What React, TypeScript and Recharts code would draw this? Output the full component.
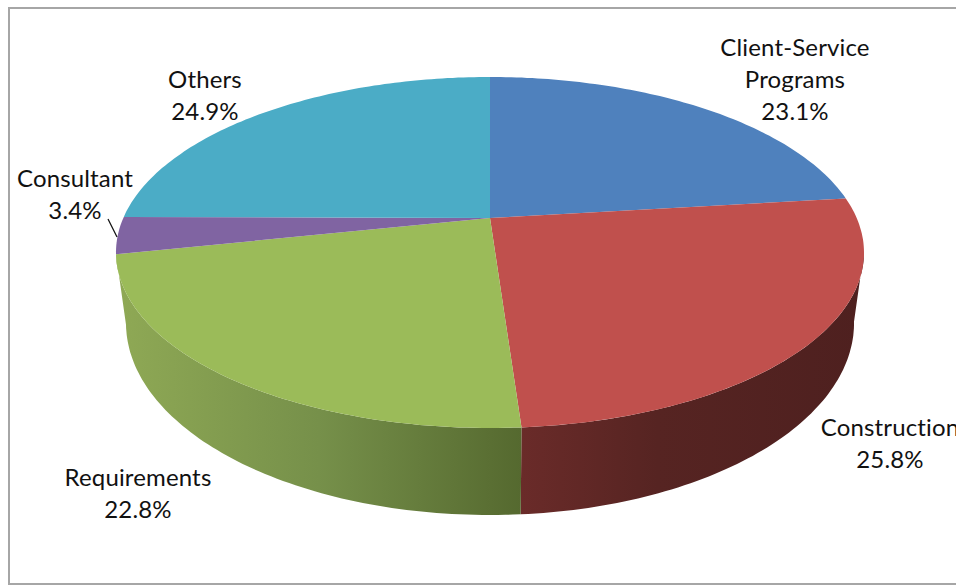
import { Pie, PieChart } from 'recharts';

const categories = ['Client-Service Programs', 'Construction', 'Requirements', 'Consultant', 'Others'];
const shares = [23.1, 25.8, 22.8, 3.4, 24.9];
const colors = ['#4f81bd', '#c0504d', '#9bbb59', '#8064a2', '#4bacc6'];

const data = categories.map((name, i) => ({ name, value: shares[i], fill: colors[i] }));

// side wall shading, left to right
const wallStops: Record<string, [number, string][]> = {
  Construction: [[0, '#6a2b29'], [0.4, '#562422'], [1, '#4e201f']],
  Requirements: [[0, '#8fa955'], [0.5, '#76904a'], [1, '#55692f']],
};

// centre of each text block, first line baseline
const labelPos: Record<string, [number, number]> = {
  'Client-Service Programs': [795, 56],
  Construction: [890, 436],
  Requirements: [138, 486],
  Consultant: [75, 187],
  Others: [205, 88],
};

const CX = 490;
const CY = 218;
const R = 374;
// perspective of the tilted disc
const K = 0.1966;
const TOP_X = 0.9805;
const TOP_Y = 0.4511;
const FLOOR_X = 0.9543;
const FLOOR_Y = 0.4936;
const FLOOR_CY = 285.2;
const EDGE = 101; // where the rim turns away, in degrees from 12 o'clock

function project(deg: number, cy: number, sx: number, sy: number) {
  const t = (deg * Math.PI) / 180;
  const d = 1 + K * Math.cos(t);
  return [CX + (R * sx * Math.sin(t)) / d, cy - (R * sy * Math.cos(t)) / d];
}

function arc(from: number, to: number, cy: number, sx: number, sy: number) {
  const n = Math.max(2, Math.ceil(Math.abs(to - from)));
  const pts = [];
  for (let i = 0; i <= n; i++) {
    pts.push(project(from + ((to - from) * i) / n, cy, sx, sy));
  }
  return pts;
}

const toPath = (pts: number[][]) => 'M' + pts.map((p) => `${p[0].toFixed(1)},${p[1].toFixed(1)}`).join('L') + 'Z';

function Slice(props: any) {
  const { startAngle, endAngle, fill, name } = props;
  const from = 90 - startAngle;
  const to = 90 - endAngle;
  const top = [[CX, CY], ...arc(from, to, CY, TOP_X, TOP_Y)];
  const stops = wallStops[name];
  const a = Math.max(from, EDGE);
  const b = Math.min(to, 360 - EDGE);
  let wall = null;
  if (stops && b > a) {
    const upper = arc(a, b, CY, TOP_X, TOP_Y);
    const lower = arc(a, b, FLOOR_CY, FLOOR_X, FLOOR_Y).reverse();
    const xs = [...upper, ...lower].map((p) => p[0]);
    const id = `wall-${name}`;
    wall = (
      <>
        <defs>
          <linearGradient id={id} gradientUnits="userSpaceOnUse" x1={Math.min(...xs)} x2={Math.max(...xs)} y1={0} y2={0}>
            {stops.map(([o, c]) => (
              <stop key={o} offset={o} stopColor={c} />
            ))}
          </linearGradient>
        </defs>
        <path d={toPath([...upper, ...lower])} fill={`url(#${id})`} />
      </>
    );
  }
  return (
    <g>
      {wall}
      <path d={toPath(top)} fill={fill} />
    </g>
  );
}

function SliceLabel(props: any) {
  const { name, value } = props;
  const [x, y] = labelPos[name];
  const lines = [...name.split(' '), `${value.toFixed(1)}%`];
  return (
    <g>
      <text x={x} y={y} textAnchor="middle" fontFamily="Lato" fontSize={24} letterSpacing={0.15} fill="#111">
        {lines.map((l: string, i: number) => (
          <tspan key={l} x={x} y={y + i * 32}>
            {l}
          </tspan>
        ))}
      </text>
      {name === 'Consultant' && <line x1={108} y1={219} x2={117} y2={237} stroke="#111" strokeWidth={1.2} />}
    </g>
  );
}

export default function App() {
  return (
    <div style={{ position: 'absolute', left: 0, top: 0, width: 956, height: 585, overflow: 'hidden', background: '#fff' }}>
      <div
        style={{
          position: 'absolute',
          left: 8,
          top: 7,
          width: 980,
          height: 578,
          boxSizing: 'border-box',
          border: '2px solid #a6a6a6',
        }}
      />
      <div style={{ position: 'absolute', left: 0, top: 0 }}>
        <PieChart width={956} height={585} margin={{ top: 0, right: 0, bottom: 0, left: 0 }}>
          <Pie
            data={data}
            dataKey="value"
            nameKey="name"
            cx={CX}
            cy={CY}
            outerRadius={R}
            startAngle={90}
            endAngle={-270}
            stroke="none"
            shape={Slice}
            label={SliceLabel}
            labelLine={false}
            isAnimationActive={false}
          />
        </PieChart>
      </div>
    </div>
  );
}
